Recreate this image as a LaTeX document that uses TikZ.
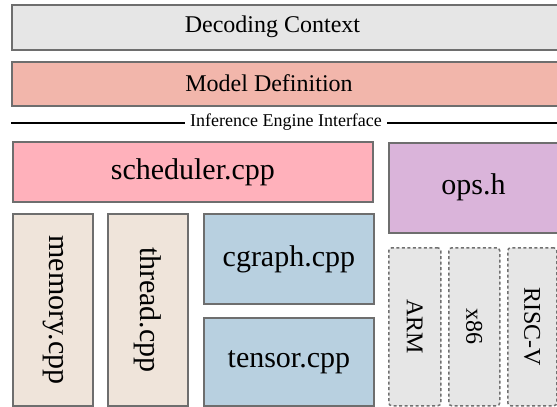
\documentclass[tikz,border=0pt]{standalone}
\usepackage{fontspec}
\setmainfont{Liberation Serif}
\definecolor{edgegray}{HTML}{6E6E6E}
\definecolor{ctxfill}{HTML}{E6E6E6}
\definecolor{modelfill}{HTML}{F2B6AB}
\definecolor{schedfill}{HTML}{FFB1BB}
\definecolor{opsfill}{HTML}{DAB4DA}
\definecolor{memfill}{HTML}{EFE4DA}
\definecolor{graphfill}{HTML}{B8D0E0}
\definecolor{archfill}{HTML}{E6E6E6}
\definecolor{dashgray}{HTML}{707070}
\tikzset{
  blk/.style={draw=edgegray, line width=1.8pt, anchor=north west, inner sep=0pt},
  archbox/.style={draw=dashgray, line width=1.5pt, dash pattern=on 3pt off 2.5pt, rounded corners=3pt, anchor=north west, inner sep=0pt, fill=archfill},
  big/.style={font=\fontsize{30}{34}\selectfont},
  mid/.style={font=\fontsize{24}{28}\selectfont},
  small/.style={font=\fontsize{18}{21}\selectfont},
  vert/.style={rotate=-90}
}
\begin{document}
\begin{tikzpicture}[x=1pt,y=-1pt]
\useasboundingbox (0,0) rectangle (557,407);
\clip (0,0) rectangle (557,407);
% top layers
\node[blk, fill=ctxfill, minimum width=560, minimum height=45] (ctx) at (11,4) {};
\node[mid] (ctxt) at (272.5,27) {Decoding Context};
\node[blk, fill=modelfill, minimum width=560, minimum height=44] (model) at (11,61) {};
\node[mid] (modelt) at (269,83.5) {Model Definition};
% interface line
\coordinate (ifl) at (11,123);
\coordinate (ifr) at (565,123);
\node[small, inner sep=0pt] (iface) at (286,122.5) {Inference Engine Interface};
\draw[line width=2pt] (ifl) -- ([xshift=-5pt]iface.west |- ifl);
\draw[line width=2pt] ([xshift=5pt]iface.east |- ifr) -- (ifr);
% scheduler / ops
\node[blk, fill=schedfill, minimum width=360, minimum height=60, big] (sched) at (12,141) {};
\node[big] (schedt) at (sched.center) {scheduler.cpp};
\node[blk, fill=opsfill, minimum width=171, minimum height=90] (ops) at (388,142) {};
\node[big] (opst) at (473.5,187) {ops.h};
% memory / thread
\node[blk, fill=memfill, minimum width=80, minimum height=192] (mem) at (12,213) {};
\node[big, vert] (memt) at (mem.center) {memory.cpp};
\node[blk, fill=memfill, minimum width=80, minimum height=192] (thr) at (107,213) {};
\node[big, vert] (thrt) at (thr.center) {thread.cpp};
% cgraph / tensor
\node[blk, fill=graphfill, minimum width=170, minimum height=90] (cg) at (203,213) {};
\node[big] (cgt) at (cg.center) {cgraph.cpp};
\node[blk, fill=graphfill, minimum width=170, minimum height=88] (ten) at (203,317) {};
\node[big] (tent) at (ten.center) {tensor.cpp};
% architectures
\node[archbox, minimum width=52, minimum height=158] (arm) at (388,247) {};
\node[mid, vert] (armt) at (arm.center) {ARM};
\node[archbox, minimum width=51, minimum height=158] (x86) at (448,247) {};
\node[mid, vert] (x86t) at (x86.center) {x86};
\node[archbox, minimum width=49, minimum height=158] (risc) at (507,247) {};
\node[mid, vert] (risct) at (risc.center) {RISC-V};
\end{tikzpicture}
\end{document}
